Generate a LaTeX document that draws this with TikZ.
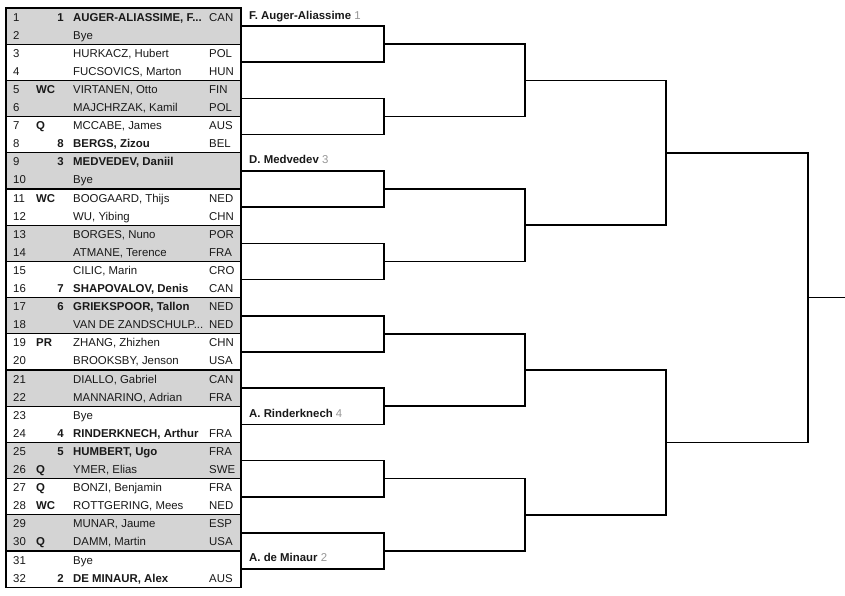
\documentclass[tikz,border=0pt]{standalone}
\usepackage{fontspec}
\setmainfont{Liberation Sans}
\definecolor{rowgray}{RGB}{212,212,212}
\definecolor{txtcol}{RGB}{25,25,25}
\definecolor{seedgray}{RGB}{150,150,150}
\newcommand\fsz{\fontsize{11.4}{13}\selectfont}
\newcommand\plrow[6]{%
  \pgfmathsetmacro\ry{8+18.1*(#1-0.5)+4}%
  \node[txt] (num#1) at (13,\ry) {#1};%
  \if\relax\detokenize{#2}\relax\else\node[txt,anchor=base east,font=\fsz\bfseries] (seed#1) at (64,\ry) {#2};\fi
  \if\relax\detokenize{#3}\relax\else\node[txt,font=\fsz\bfseries] (qual#1) at (36,\ry) {#3};\fi
  \ifnum#6=1 \node[txt,font=\fsz\bfseries] (name#1) at (73,\ry) {#4};%
  \else \node[txt] (name#1) at (73,\ry) {#4};\fi
  \if\relax\detokenize{#5}\relax\else\node[txt] (ctry#1) at (209,\ry) {#5};\fi
}
\begin{document}
\begin{tikzpicture}[x=1pt,y=-1pt,
  txt/.style={anchor=base west,inner sep=0pt,text=txtcol,font=\fsz},
  pairbox/.style={draw=black,line width=1.3pt,minimum width=235pt,minimum height=36.2pt,inner sep=0pt},
  lab/.style={anchor=base west,inner sep=0pt,text=txtcol,font=\fsz\bfseries},
  bracket/.style={draw=black,line width=1.6pt,line join=miter,line cap=rect}]
\useasboundingbox (0,0) rectangle (845,596);

% pair boxes
\foreach \k in {1,...,16}{
  \pgfmathsetmacro\cy{8+36.2*(\k-0.5)}
  \ifodd\k
    \node[pairbox,fill=rowgray] (p\k) at (123.5,\cy) {};
  \else
    \node[pairbox,fill=white] (p\k) at (123.5,\cy) {};
  \fi
}

% rows
\plrow{1}{1}{}{AUGER-ALIASSIME, F...}{CAN}{1}
\plrow{2}{}{}{Bye}{}{0}
\plrow{3}{}{}{HURKACZ, Hubert}{POL}{0}
\plrow{4}{}{}{FUCSOVICS, Marton}{HUN}{0}
\plrow{5}{}{WC}{VIRTANEN, Otto}{FIN}{0}
\plrow{6}{}{}{MAJCHRZAK, Kamil}{POL}{0}
\plrow{7}{}{Q}{MCCABE, James}{AUS}{0}
\plrow{8}{8}{}{BERGS, Zizou}{BEL}{1}
\plrow{9}{3}{}{MEDVEDEV, Daniil}{}{1}
\plrow{10}{}{}{Bye}{}{0}
\plrow{11}{}{WC}{BOOGAARD, Thijs}{NED}{0}
\plrow{12}{}{}{WU, Yibing}{CHN}{0}
\plrow{13}{}{}{BORGES, Nuno}{POR}{0}
\plrow{14}{}{}{ATMANE, Terence}{FRA}{0}
\plrow{15}{}{}{CILIC, Marin}{CRO}{0}
\plrow{16}{7}{}{SHAPOVALOV, Denis}{CAN}{1}
\plrow{17}{6}{}{GRIEKSPOOR, Tallon}{NED}{1}
\plrow{18}{}{}{VAN DE ZANDSCHULP...}{NED}{0}
\plrow{19}{}{PR}{ZHANG, Zhizhen}{CHN}{0}
\plrow{20}{}{}{BROOKSBY, Jenson}{USA}{0}
\plrow{21}{}{}{DIALLO, Gabriel}{CAN}{0}
\plrow{22}{}{}{MANNARINO, Adrian}{FRA}{0}
\plrow{23}{}{}{Bye}{}{0}
\plrow{24}{4}{}{RINDERKNECH, Arthur}{FRA}{1}
\plrow{25}{5}{}{HUMBERT, Ugo}{FRA}{1}
\plrow{26}{}{Q}{YMER, Elias}{SWE}{0}
\plrow{27}{}{Q}{BONZI, Benjamin}{FRA}{0}
\plrow{28}{}{WC}{ROTTGERING, Mees}{NED}{0}
\plrow{29}{}{}{MUNAR, Jaume}{ESP}{0}
\plrow{30}{}{Q}{DAMM, Martin}{USA}{0}
\plrow{31}{}{}{Bye}{}{0}
\plrow{32}{2}{}{DE MINAUR, Alex}{AUS}{1}

% bracket joints
\foreach \j in {1,...,8}{\coordinate (b1-\j) at (384,{8+72.4*\j-36.2});}
\foreach \j in {1,...,4}{\coordinate (b2-\j) at (525,{8+144.8*\j-72.4});}
\foreach \j in {1,...,2}{\coordinate (b3-\j) at (666,{8+289.6*\j-144.8});}
\coordinate (b4-1) at (808,297.6);
\coordinate (champ) at (845,297.6);

% round 1
\foreach \j in {1,...,8}{
  \pgfmathtruncatemacro\a{2*\j-1}
  \pgfmathtruncatemacro\b{2*\j}
  \draw[bracket] (p\a.east) -| (b1-\j) |- (p\b.east);
}
% round 2
\foreach \j in {1,...,4}{
  \pgfmathtruncatemacro\a{2*\j-1}
  \pgfmathtruncatemacro\b{2*\j}
  \draw[bracket] (b1-\a) -| (b2-\j) |- (b1-\b);
}
% round 3
\foreach \j in {1,...,2}{
  \pgfmathtruncatemacro\a{2*\j-1}
  \pgfmathtruncatemacro\b{2*\j}
  \draw[bracket] (b2-\a) -| (b3-\j) |- (b2-\b);
}
% round 4 and final
\draw[bracket] (b3-1) -| (b4-1) |- (b3-2);
\draw[bracket] (b4-1) -- (champ);

% winners of round 1 (byes)
\node[lab] (w1) at (249,{26.1-7}) {F. Auger-Aliassime \textcolor{seedgray}{\mdseries 1}};
\node[lab] (w5) at (249,{170.9-7}) {D. Medvedev \textcolor{seedgray}{\mdseries 3}};
\node[lab] (w12) at (249,{424.2-7}) {A. Rinderknech \textcolor{seedgray}{\mdseries 4}};
\node[lab] (w16) at (249,{568.9-7}) {A. de Minaur \textcolor{seedgray}{\mdseries 2}};
\end{tikzpicture}
\end{document}
